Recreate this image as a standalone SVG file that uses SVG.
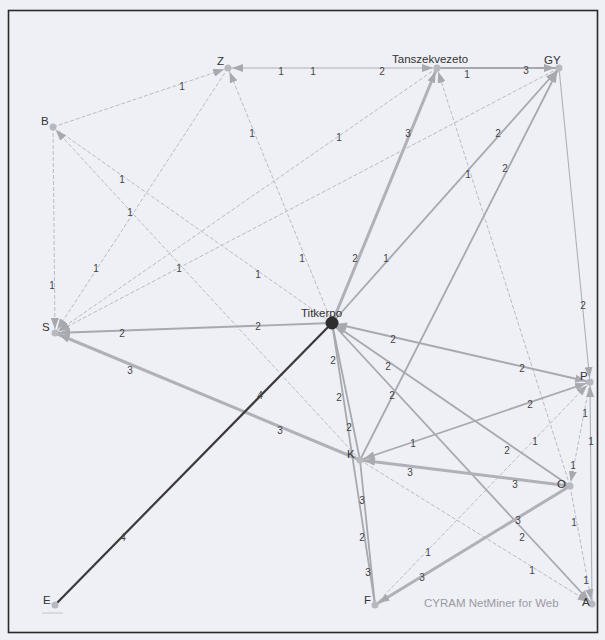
<svg xmlns="http://www.w3.org/2000/svg" width="605" height="640" viewBox="0 0 605 640">
<style>
.bg{fill:#efeff6}
.frame{fill:none;stroke:#2a2a2a;stroke-width:1.6}
.w1{stroke:#b4b4bc;stroke-width:0.9;stroke-dasharray:4,2;fill:none}
.w1s{stroke:#b0b0b8;stroke-width:1.1;fill:none}
.w2{stroke:#a8a8b0;stroke-width:1.8;fill:none}
.w3{stroke:#b0b0b8;stroke-width:3;fill:none}
.w4{stroke:#3a3a3a;stroke-width:2.2;fill:none}
.n{fill:#b8b8c0}
.nt{fill:#2e2e2e}
.lab{font-family:"Liberation Sans",Arial,sans-serif;font-size:11.5px;fill:#333}
.el{font-family:"Liberation Sans",Arial,sans-serif;font-size:10px;fill:#444;text-anchor:middle}
.wm{font-family:"Liberation Sans",Arial,sans-serif;font-size:11.5px;fill:#9a9aa2}
</style>
<defs>
<marker id="ah" markerUnits="userSpaceOnUse" markerWidth="12" markerHeight="8" refX="15" refY="4" orient="auto" viewBox="0 0 12 8">
<path d="M0,0 L11,4 L0,8 z" fill="#a8a8b0"/>
</marker>
<marker id="as" markerUnits="userSpaceOnUse" markerWidth="12" markerHeight="8" refX="-4" refY="4" orient="auto" viewBox="0 0 12 8">
<path d="M11,0 L0,4 L11,8 z" fill="#a8a8b0"/>
</marker>
</defs>
<rect class="bg" x="0" y="0" width="605" height="640"/>
<rect class="frame" x="8.5" y="10.5" width="589" height="622"/>
<g id="connectors">
<line class="w1" x1="53" y1="127" x2="228" y2="68" marker-end="url(#ah)"/>
<line class="w1" x1="53" y1="127" x2="55" y2="333" marker-end="url(#ah)"/>
<line class="w1" x1="53" y1="127" x2="332" y2="323"/>
<line class="w1" x1="360" y1="460" x2="53" y2="127" marker-end="url(#ah)"/>
<line class="w1" x1="228" y1="68" x2="55" y2="333" marker-end="url(#ah)"/>
<line class="w1" x1="332" y1="323" x2="228" y2="68" marker-end="url(#ah)"/>
<line class="w1" x1="437" y1="68" x2="55" y2="333" marker-end="url(#ah)"/>
<line class="w1" x1="559" y1="68" x2="55" y2="333" marker-end="url(#ah)"/>
<line class="w1" x1="570" y1="486" x2="437" y2="68" marker-end="url(#ah)"/>
<line class="w1" x1="360" y1="460" x2="592" y2="604" marker-end="url(#ah)"/>
<line class="w1" x1="375" y1="605" x2="590" y2="382" marker-end="url(#ah)"/>
<line class="w1" x1="590" y1="382" x2="570" y2="486" marker-end="url(#ah)"/>
<line class="w1s" x1="592" y1="604" x2="590" y2="382" marker-end="url(#ah)"/>
<line class="w1" x1="570" y1="486" x2="592" y2="604" marker-end="url(#ah)"/>
<line class="w1s" x1="559" y1="68" x2="590" y2="382" marker-end="url(#ah)"/>
<line class="w1s" x1="228" y1="68" x2="437" y2="68" marker-start="url(#as)" marker-end="url(#ah)"/>
<line class="w2" x1="437" y1="68" x2="559" y2="68" marker-end="url(#ah)"/>
<line class="w2" x1="332" y1="323" x2="55" y2="333" marker-end="url(#ah)"/>
<line class="w3" x1="360" y1="460" x2="55" y2="333" marker-end="url(#ah)"/>
<line class="w3" x1="332" y1="323" x2="437" y2="68" marker-end="url(#ah)"/>
<line class="w2" x1="332" y1="323" x2="559" y2="68" marker-end="url(#ah)"/>
<line class="w2" x1="360" y1="460" x2="559" y2="68" marker-end="url(#ah)"/>
<line class="w2" x1="332" y1="323" x2="590" y2="382" marker-start="url(#as)" marker-end="url(#ah)"/>
<line class="w2" x1="570" y1="486" x2="332" y2="323" marker-end="url(#ah)"/>
<line class="w2" x1="332" y1="323" x2="592" y2="604" marker-end="url(#ah)"/>
<line class="w2" x1="360" y1="460" x2="590" y2="382" marker-start="url(#as)" marker-end="url(#ah)"/>
<line class="w3" x1="570" y1="486" x2="360" y2="460" marker-end="url(#ah)"/>
<line class="w2" x1="360" y1="460" x2="375" y2="605"/>
<line class="w2" x1="332" y1="323" x2="360" y2="460"/>
<line class="w2" x1="332" y1="323" x2="375" y2="605"/>
<line class="w3" x1="570" y1="486" x2="375" y2="605" marker-end="url(#ah)"/>
<line class="w4" x1="55" y1="605" x2="332" y2="323"/>
<line stroke="#b8b8c0" stroke-width="0.8" x1="42" y1="613" x2="63" y2="613"/>
</g>
<g id="edge-labels">
<text class="el" x="281" y="75">1</text>
<text class="el" x="313" y="75">1</text>
<text class="el" x="382" y="75">2</text>
<text class="el" x="467" y="78">1</text>
<text class="el" x="526" y="74">3</text>
<text class="el" x="182" y="90">1</text>
<text class="el" x="52" y="289">1</text>
<text class="el" x="122" y="183">1</text>
<text class="el" x="258" y="278">1</text>
<text class="el" x="130" y="216">1</text>
<text class="el" x="96" y="272">1</text>
<text class="el" x="252" y="137">1</text>
<text class="el" x="302" y="262">1</text>
<text class="el" x="339" y="141">1</text>
<text class="el" x="179" y="272">1</text>
<text class="el" x="122" y="337">2</text>
<text class="el" x="258" y="330">2</text>
<text class="el" x="130" y="374">3</text>
<text class="el" x="280" y="434">3</text>
<text class="el" x="123" y="541">4</text>
<text class="el" x="260" y="399">4</text>
<text class="el" x="408" y="137">3</text>
<text class="el" x="355" y="262">2</text>
<text class="el" x="498" y="137">2</text>
<text class="el" x="468" y="178">1</text>
<text class="el" x="386" y="262">1</text>
<text class="el" x="505" y="172">2</text>
<text class="el" x="392" y="399">2</text>
<text class="el" x="583" y="309">2</text>
<text class="el" x="393" y="343">2</text>
<text class="el" x="522" y="372">2</text>
<text class="el" x="388" y="370">2</text>
<text class="el" x="507" y="454">2</text>
<text class="el" x="522" y="541">2</text>
<text class="el" x="413" y="447">1</text>
<text class="el" x="530" y="408">2</text>
<text class="el" x="410" y="476">3</text>
<text class="el" x="515" y="488">3</text>
<text class="el" x="532" y="574">1</text>
<text class="el" x="362" y="504">3</text>
<text class="el" x="362" y="541">2</text>
<text class="el" x="368" y="576">3</text>
<text class="el" x="333" y="364">2</text>
<text class="el" x="339" y="401">2</text>
<text class="el" x="349" y="431">2</text>
<text class="el" x="422" y="581">3</text>
<text class="el" x="518" y="524">3</text>
<text class="el" x="428" y="556">1</text>
<text class="el" x="535" y="445">1</text>
<text class="el" x="585" y="417">1</text>
<text class="el" x="591" y="445">1</text>
<text class="el" x="573" y="469">1</text>
<text class="el" x="574" y="526">1</text>
<text class="el" x="586" y="584">1</text>
</g>
<g id="node-Z"><circle class="n" cx="228" cy="68" r="3.5"/><text class="lab" x="217" y="65">Z</text></g>
<g id="node-B"><circle class="n" cx="53" cy="127" r="3.5"/><text class="lab" x="41" y="125">B</text></g>
<g id="node-Tanszekvezeto"><circle class="n" cx="437" cy="68" r="3.5"/><text class="lab" x="392" y="63">Tanszekvezeto</text></g>
<g id="node-GY"><circle class="n" cx="559" cy="68" r="3.5"/><text class="lab" x="544" y="64">GY</text></g>
<g id="node-S"><circle class="n" cx="55" cy="333" r="3.5"/><text class="lab" x="42" y="331">S</text></g>
<g id="node-Titkerpo"><circle class="nt" cx="332" cy="323" r="6.5"/><text class="lab" x="301" y="317">Titkerpo</text></g>
<g id="node-E"><circle class="n" cx="55" cy="605" r="3.5"/><text class="lab" x="43" y="604">E</text></g>
<g id="node-K"><circle class="n" cx="360" cy="460" r="3.5"/><text class="lab" x="347" y="458">K</text></g>
<g id="node-P"><circle class="n" cx="590" cy="382" r="3.5"/><text class="lab" x="580" y="380">P</text></g>
<g id="node-O"><circle class="n" cx="570" cy="486" r="3.5"/><text class="lab" x="557" y="488">O</text></g>
<g id="node-F"><circle class="n" cx="375" cy="605" r="3.5"/><text class="lab" x="364" y="604">F</text></g>
<g id="node-A"><circle class="n" cx="592" cy="604" r="3.5"/><text class="lab" x="582" y="606">A</text></g>
<text class="wm" x="424" y="607">CYRAM NetMiner for Web</text>
</svg>
